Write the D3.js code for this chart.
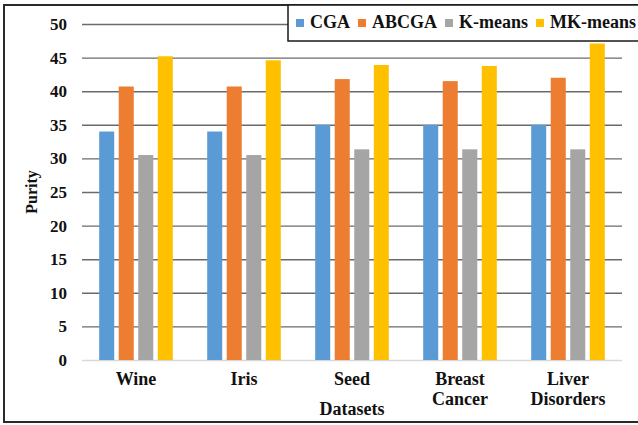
<!DOCTYPE html>
<html>
<head>
<meta charset="utf-8">
<script src="https://cdn.jsdelivr.net/npm/d3@7"></script>
<style>
  html, body { margin: 0; padding: 0; background: #fff; }
  svg { display: block; }
  text { font-family: "Liberation Serif", "Times New Roman", serif; font-weight: bold; fill: #111; }
</style>
</head>
<body>
<svg id="chart" width="638" height="425"></svg>
<script>
// Purity of four clustering methods across five datasets
const categories = [["Wine"], ["Iris"], ["Seed"], ["Breast", "Cancer"], ["Liver", "Disorders"]];
const seriesNames = ["CGA", "ABCGA", "K-means", "MK-means"];
const cga     = [34, 34, 35, 35, 35];
const abcga   = [40.7, 40.7, 41.8, 41.5, 42];
const kmeans  = [30.5, 30.5, 31.35, 31.35, 31.35];
const mkmeans = [45.2, 44.6, 43.9, 43.75, 47.1];
const yTicks  = [0, 5, 10, 15, 20, 25, 30, 35, 40, 45, 50];
const colors  = ["#5B9BD5", "#ED7D31", "#A5A5A5", "#FFC000"];

const series = [cga, abcga, kmeans, mkmeans];
const svg = d3.select("#chart");

// outer frame
svg.append("rect")
  .attr("x", 4).attr("y", 5).attr("width", 720).attr("height", 417)
  .attr("fill", "none").attr("stroke", "#2a2a2a").attr("stroke-width", 2);

const plotLeft = 82, plotRight = 622, plotTop = 24, plotBottom = 360;

const x0 = d3.scaleBand()
  .domain(categories.map((c, i) => i))
  .range([plotLeft, plotRight])
  .padding(0);

const x1 = d3.scaleBand()
  .domain(seriesNames)
  .range([0, x0.bandwidth()])
  .paddingInner(0.23)
  .paddingOuter(0.88);

const y = d3.scaleLinear().domain([0, 50]).range([plotBottom, plotTop]);

// horizontal gridlines and tick labels
const yAxis = d3.axisLeft(y)
  .tickValues(yTicks)
  .tickSize(-(plotRight - plotLeft))
  .tickPadding(15)
  .tickFormat(d3.format("d"));

const gy = svg.append("g")
  .attr("transform", `translate(${plotLeft},0)`)
  .call(yAxis);
gy.select(".domain").remove();
gy.selectAll(".tick line")
  .attr("stroke", d => d === 0 ? "#d9d9d9" : "#6b6b6b")
  .attr("stroke-width", d => d === 0 ? 1.5 : 1.4);
gy.selectAll(".tick text")
  .attr("font-size", 17)
  .attr("font-family", "Liberation Serif, Times New Roman, serif")
  .attr("font-weight", "bold")
  .attr("fill", "#111");

// bars
const groups = svg.append("g").selectAll("g")
  .data(categories.map((c, i) => i))
  .join("g")
  .attr("transform", i => `translate(${x0(i)},0)`);

groups.selectAll("rect")
  .data(i => series.map((s, k) => ({ name: seriesNames[k], value: s[i], k })))
  .join("rect")
  .attr("x", d => x1(d.name))
  .attr("width", x1.bandwidth())
  .attr("y", d => y(d.value))
  .attr("height", d => y(0) - y(d.value))
  .attr("fill", d => colors[d.k]);

// category labels
const catText = svg.append("g").selectAll("text")
  .data(categories)
  .join("text")
  .attr("text-anchor", "middle")
  .attr("font-size", 18)
  .attr("x", (c, i) => x0(i) + x0.bandwidth() / 2)
  .attr("y", 385);
catText.selectAll("tspan")
  .data(c => c)
  .join("tspan")
  .attr("x", function () { return d3.select(this.parentNode).attr("x"); })
  .attr("dy", (d, j) => j === 0 ? 0 : 19.5)
  .text(d => d);

// axis titles
svg.append("text")
  .attr("text-anchor", "middle")
  .attr("font-size", 18)
  .attr("x", (plotLeft + plotRight) / 2)
  .attr("y", 415)
  .text("Datasets");

svg.append("text")
  .attr("text-anchor", "middle")
  .attr("font-size", 16)
  .attr("transform", `translate(37,${(plotTop + plotBottom) / 2}) rotate(-90)`)
  .text("Purity");

// legend
const legend = svg.append("g");
legend.append("rect")
  .attr("x", 288).attr("y", 5).attr("width", 400).attr("height", 36)
  .attr("fill", "#fff").attr("stroke", "#1a1a1a").attr("stroke-width", 1.5);

let lx = 296;
seriesNames.forEach((name, k) => {
  legend.append("rect")
    .attr("x", lx).attr("y", 19).attr("width", 8).attr("height", 8)
    .attr("fill", colors[k]);
  const t = legend.append("text")
    .attr("x", lx + 14).attr("y", 28)
    .attr("font-size", 18)
    .text(name);
  lx += 14 + t.node().getComputedTextLength() + 8;
});
</script>
</body>
</html>
